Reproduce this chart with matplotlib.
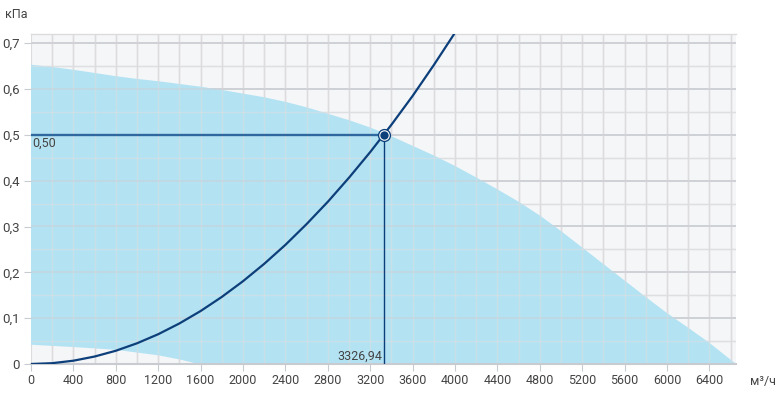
import matplotlib
matplotlib.use("Agg")
import matplotlib.pyplot as plt
from matplotlib.ticker import FuncFormatter

plt.rcParams['font.family'] = ['Roboto', 'DejaVu Sans']

# Fan working area: upper boundary (m3/h, kPa)
upper_x = [0, 200, 400, 600, 800, 1000, 1200, 1400, 1600, 1800, 2000, 2200, 2400, 2600,
           2800, 3000, 3200, 3400, 3600, 3800, 4000, 4200, 4400, 4600, 4800, 5000, 5200,
           5400, 5600, 5800, 6000, 6200, 6400, 6650]
upper_y = [0.653, 0.648, 0.642, 0.635, 0.628, 0.622, 0.617, 0.611, 0.605, 0.598, 0.590, 0.582,
           0.572, 0.560, 0.546, 0.532, 0.516, 0.497, 0.476, 0.455, 0.432, 0.407, 0.381, 0.354,
           0.324, 0.290, 0.254, 0.218, 0.182, 0.146, 0.111, 0.079, 0.046, 0.0]
# lower boundary
lower_x = [0, 400, 800, 1200, 1400, 1580, 6650]
lower_y = [0.042, 0.037, 0.031, 0.019, 0.010, 0.0, 0.0]

# System curve
sys_x = [0, 200, 400, 600, 800, 1000, 1200, 1400, 1600, 1800, 2000, 2200, 2400, 2600, 2800,
         3000, 3200, 3400, 3600, 3800, 4000]
sys_y = [0.0, 0.0018, 0.0072, 0.0163, 0.0289, 0.0452, 0.065, 0.0885, 0.1156, 0.1464, 0.1807,
         0.2186, 0.260, 0.3054, 0.354, 0.4066, 0.4625, 0.5221, 0.585, 0.6524, 0.723]

# Operating point
op_x = 3326.94
op_y = 0.50
op_x_label = "3326,94"
op_y_label = "0,50"

x_ticks = [0, 400, 800, 1200, 1600, 2000, 2400, 2800, 3200, 3600, 4000, 4400, 4800, 5200,
           5600, 6000, 6400]
y_ticks = [0, 0.1, 0.2, 0.3, 0.4, 0.5, 0.6, 0.7]

W, H = 781, 395
fig = plt.figure(figsize=(W / 100, H / 100), dpi=100)
ax = fig.add_axes([31 / W, (H - 364) / H, (736 - 31) / W, (364 - 34) / H])
ax.set_facecolor('#f5f6f8')
ax.set_xlim(0, 6650)
ax.set_ylim(0, 0.72)


def draw_grid(alpha, z):
    for xv in range(200, 6650, 200):
        ax.axvline(xv, color='#dcdcdf', lw=1, alpha=alpha, zorder=z)
    for i in range(1, 15):
        yv = i * 0.05
        if yv > 0.72:
            break
        major = (i % 2 == 0)
        ax.axhline(yv, color='#cdd0d5' if major else '#dedfe2',
                   lw=1.3 if major else 1, alpha=alpha, zorder=z)


draw_grid(1.0, 0.5)

# fill area
poly_x = list(upper_x) + list(reversed(lower_x))
poly_y = list(upper_y) + list(reversed(lower_y))
ax.fill(poly_x, poly_y, color='#b3e3f3', lw=0, zorder=1)

draw_grid(0.55, 1.1)

# operating lines
ax.plot([0, op_x], [op_y, op_y], color='#2f679f', lw=1.7, zorder=3, solid_capstyle='butt')
ax.plot([op_x, op_x], [0, op_y], color='#0d3f7a', lw=1, zorder=3)
ax.plot(sys_x, sys_y, color='#0d3f7a', lw=1.6, zorder=4)
ax.plot([op_x], [op_y], marker='o', ms=9.5, mfc='#0d3f7a', mec='none', zorder=5)
ax.plot([op_x], [op_y], marker='o', ms=7.6, mfc='white', mec='none', zorder=5)
ax.plot([op_x], [op_y], marker='o', ms=6.0, mfc='#0d3f7a', mec='none', zorder=5)

ax.text(10, op_y - 0.005, op_y_label, ha='left', va='top', fontsize=9, color='#444444', zorder=6)
ax.text(op_x - 10, 0.003, op_x_label, ha='right', va='bottom', fontsize=9, color='#444444', zorder=6)

# axes styling
for s in ['left', 'right']:
    ax.spines[s].set_visible(False)
ax.spines['top'].set_color('#dcdcdf')
ax.spines['top'].set_linewidth(1)
ax.spines['bottom'].set_color('#c8cbd0')
ax.spines['bottom'].set_linewidth(1.5)
ax.axvline(0, color='#dcdcdf', lw=1.5, zorder=0.6)

ax.set_xticks(x_ticks)
ax.set_yticks(y_ticks)
ax.xaxis.set_major_formatter(FuncFormatter(lambda v, p: f"{int(v)}"))
ax.yaxis.set_major_formatter(FuncFormatter(lambda v, p: "0" if v == 0 else f"{v:.1f}".replace('.', ',')))
ax.tick_params(axis='x', length=5, color='#c8cbd0', labelsize=9, labelcolor='#444444', pad=2)
ax.tick_params(axis='y', length=5, color='#c8cbd0', labelsize=9.5, labelcolor='#444444', pad=3)

fig.text(5 / W, 1 - 15 / H, "кПа", ha='left', va='center', fontsize=9, color='#444444')
fig.text(750 / W, 1 - 381 / H, "м³/ч", ha='left', va='center', fontsize=9, color='#444444')

fig.savefig('out.png', dpi=100)
